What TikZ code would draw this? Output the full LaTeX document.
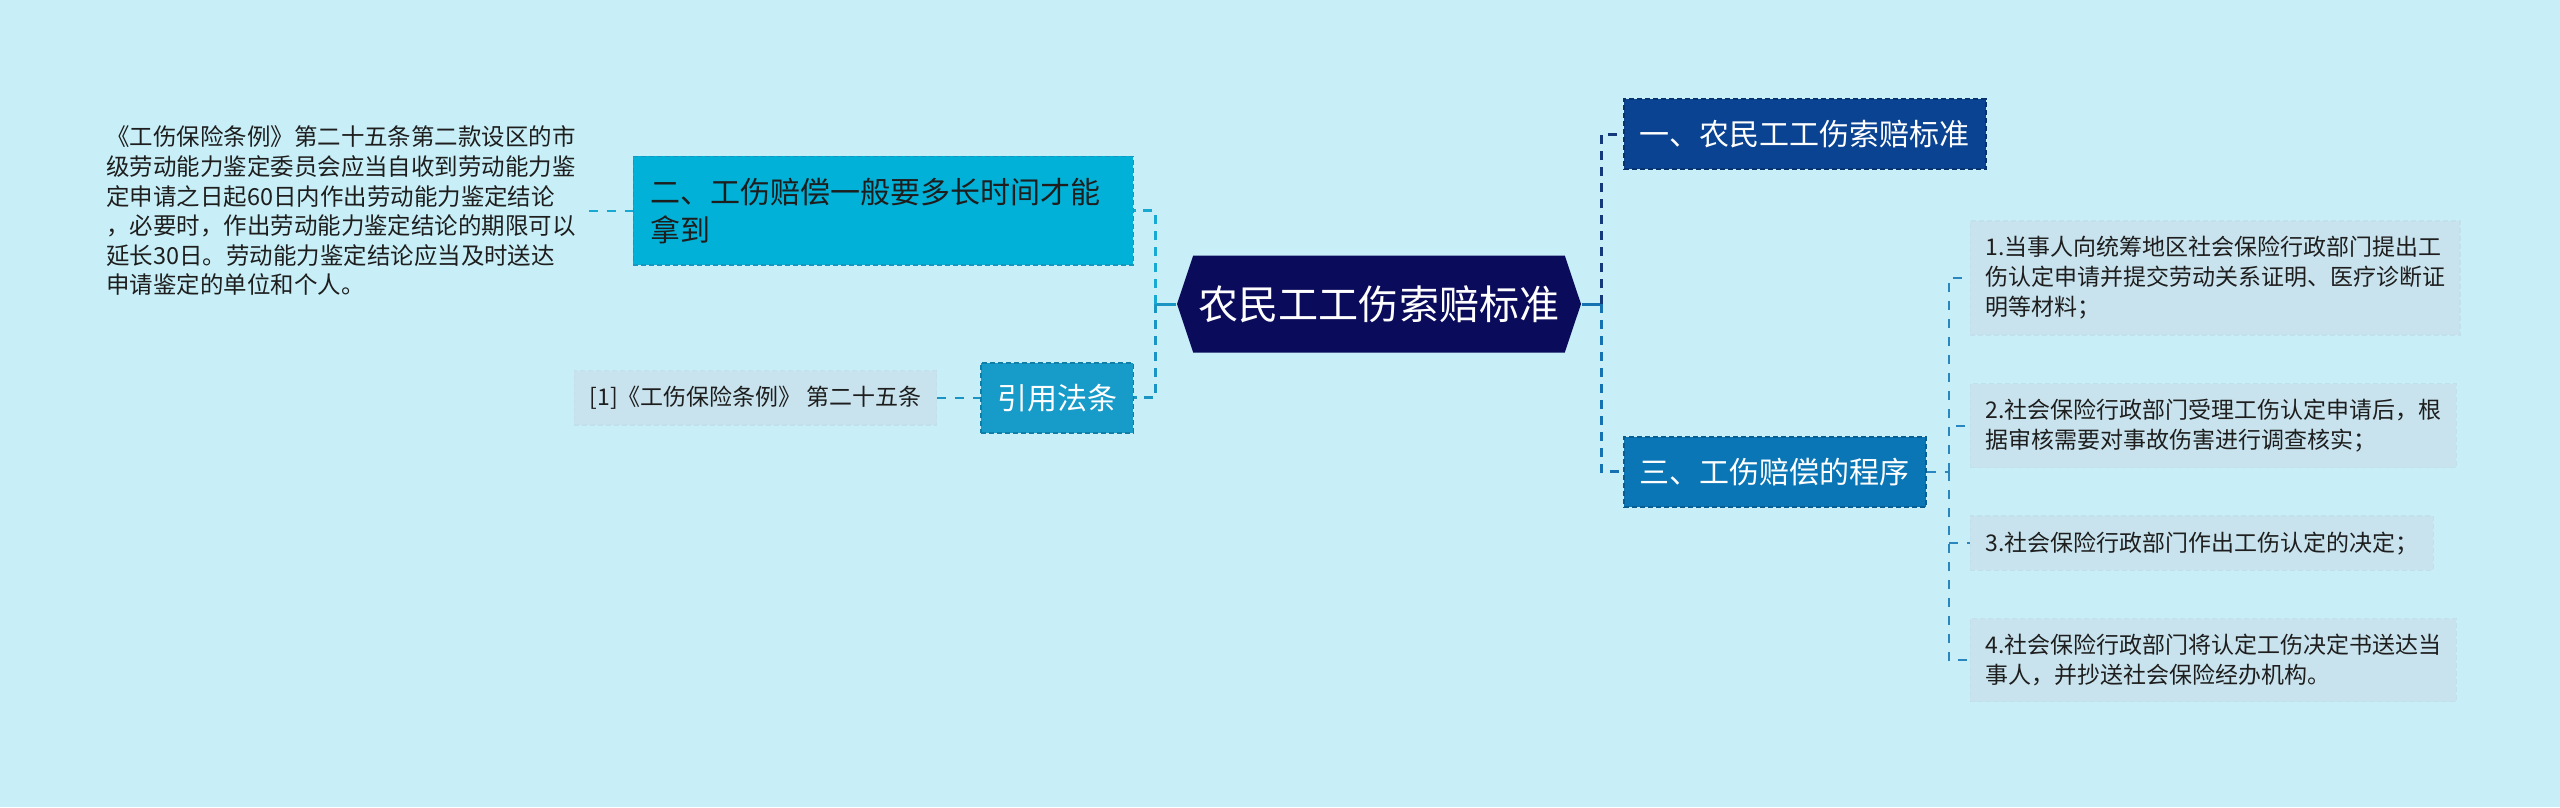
\documentclass[tikz,border=0pt]{standalone}
\usepackage{fontspec}
\setmainfont{Noto Sans CJK SC}
\usetikzlibrary{positioning,calc,shapes.symbols}
\definecolor{cBg}{HTML}{C8EFF7}
\definecolor{cHub}{HTML}{0B0B5C}
\definecolor{cSecA}{HTML}{0A4391}
\definecolor{cSecAd}{HTML}{08336F}
\definecolor{cSecB}{HTML}{02B1D7}
\definecolor{cSecBd}{HTML}{1597BE}
\definecolor{cSecC}{HTML}{0B76B5}
\definecolor{cSecCd}{HTML}{085E91}
\definecolor{cSecD}{HTML}{179BC9}
\definecolor{cSecDd}{HTML}{107FA8}
\definecolor{cLeaf}{HTML}{C8E3ED}
\definecolor{cLeafd}{HTML}{C2E0EB}
\definecolor{cEdgeA}{HTML}{14397A}
\definecolor{cEdgeB}{HTML}{18A9D2}
\definecolor{cEdgeC}{HTML}{1572B0}
\definecolor{cEdgeD}{HTML}{1994C3}
\definecolor{cEdgeS}{HTML}{2A86BE}
\definecolor{cTxt}{HTML}{1E1E1E}
\tikzset{
  hubbox/.style ={signal, signal to=west and east, signal pointer angle=143,
                  fill=cHub, text=white, inner sep=0pt,
                  minimum width=40.4mm, minimum height=9.7mm,
                  font=\fontsize{11.4pt}{13.7pt}\selectfont},
  secbox/.style ={draw, dashed, dash pattern=on 0.5mm off 0.3mm, line width=0.5pt,
                  inner xsep=1.6mm, inner ysep=0pt, minimum height=7mm,
                  text=white, font=\fontsize{8.54pt}{10.8pt}\selectfont},
  secA/.style   ={secbox, fill=cSecA, draw=cSecAd},
  secB/.style   ={secbox, fill=cSecB, draw=cSecBd, text=cTxt, align=left,
                  text width=46.6mm, inner xsep=1.7mm, inner ysep=2.15mm},
  secC/.style   ={secbox, fill=cSecC, draw=cSecCd},
  secD/.style   ={secbox, fill=cSecD, draw=cSecDd},
  note/.style   ={align=left, inner xsep=1.2mm, inner ysep=1.5mm, text=cTxt,
                  font=\fontsize{6.68pt}{8.4pt}\selectfont},
  leaf/.style   ={note, fill=cLeaf, draw=cLeafd, dashed, dash pattern=on 0.5mm off 0.3mm,
                  line width=0.4pt, inner xsep=1.5mm, inner ysep=1.55mm,
                  font=\fontsize{6.54pt}{8.54pt}\selectfont},
  stub/.style   ={line width=0.85pt},
  link/.style   ={line width=0.85pt, dash pattern=on 0.9mm off 0.7mm},
  thin link/.style={line width=0.55pt, dash pattern=on 0.9mm off 0.9mm},
}

\begin{document}
\begin{tikzpicture}[x=0.1mm, y=-0.1mm]
  \fill[cBg] (0,0) rectangle (2560,807);
  \useasboundingbox (0,0) rectangle (2560,807);

  % ---- centre ----
  \node[hubbox] (hub) at (1379,304) {农民工工伤索赔标准};

  % ---- branches ----
  \node[secA, above right=13.4mm and 4.1mm of hub.east] (sec1) {一、农民工工伤索赔标准};
  \node[secC, below right=13.2mm and 4.1mm of hub.east] (sec3) {三、工伤赔偿的程序};
  \node[secB, above left=3.8mm and 4.2mm of hub.west] (sec2)
    {二、工伤赔偿一般要多长时间才能\\拿到};
  \node[secD, below left=5.8mm and 4.2mm of hub.west] (sec4) {引用法条};

  % ---- left leaves ----
  \node[note, left=4.4mm of sec2] (note2)
    {《工伤保险条例》第二十五条第二款设区的市\\
     级劳动能力鉴定委员会应当自收到劳动能力鉴\\
     定申请之日起60日内作出劳动能力鉴定结论\\
     ，必要时，作出劳动能力鉴定结论的期限可以\\
     延长30日。劳动能力鉴定结论应当及时送达\\
     申请鉴定的单位和个人。};
  \node[leaf, left=4.3mm of sec4] (note4) {[1]《工伤保险条例》 第二十五条};

  % ---- procedure steps ----
  \node[leaf, above right=13.6mm and 4.3mm of sec3.east] (stp1)
    {1.当事人向统筹地区社会保险行政部门提出工\\
     伤认定申请并提交劳动关系证明、医疗诊断证\\
     明等材料；};
  \node[leaf, below=4.7mm of stp1.south west, anchor=north west] (stp2)
    {2.社会保险行政部门受理工伤认定申请后，根\\
     据审核需要对事故伤害进行调查核实；};
  \node[leaf, below=4.7mm of stp2.south west, anchor=north west] (stp3)
    {3.社会保险行政部门作出工伤认定的决定；};
  \node[leaf, below=4.7mm of stp3.south west, anchor=north west] (stp4)
    {4.社会保险行政部门将认定工伤决定书送达当\\
     事人，并抄送社会保险经办机构。};

  % ---- junctions ----
  \coordinate (jL) at ($(hub.west)+(-21,0)$);
  \coordinate (jR) at ($(hub.east)+(20,0)$);
  \coordinate (jS) at ($(sec3.east)+(22,0)$);

  % ---- edges ----
  \draw[stub, cEdgeD] (hub.west) -- (jL);
  \draw[stub, cEdgeC] (hub.east) -- (jR);
  \draw[link, cEdgeB] (jL) |- (sec2.east);
  \draw[link, cEdgeD] (jL) |- (sec4.east);
  \draw[link, cEdgeA] (jR) |- (sec1.west);
  \draw[link, cEdgeC] (jR) |- (sec3.west);
  \draw[thin link, cEdgeB] (note2.east) -- (sec2.west);
  \draw[thin link, cEdgeD] (note4.east) -- (sec4.west);
  \draw[thin link, cEdgeS] (sec3.east) -- (jS);
  \foreach \s in {stp1,stp2,stp3,stp4}
    \draw[thin link, cEdgeS] (jS) |- (\s.west);

\end{tikzpicture}
\end{document}
